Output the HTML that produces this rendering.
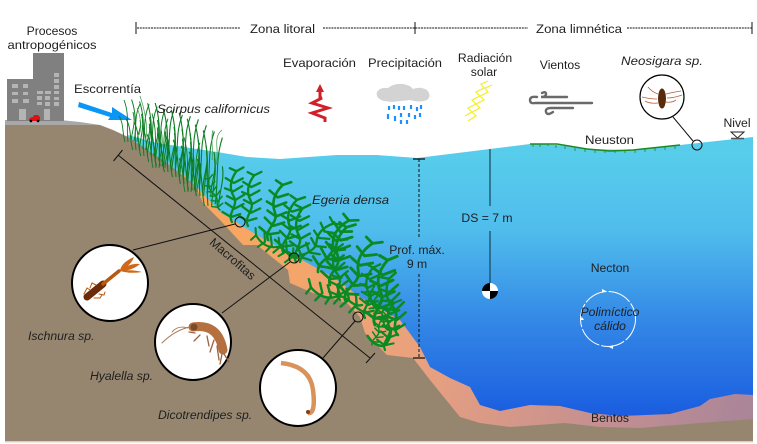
<!DOCTYPE html>
<html><head><meta charset="utf-8"><style>
html,body{margin:0;padding:0;background:#fff}
svg{display:block;filter:blur(.3px)}
text{font-family:"Liberation Sans",sans-serif;font-size:12.2px;fill:#1f1f1f}
.i{font-style:italic}
.m{text-anchor:middle}
</style></head><body>
<svg width="757" height="444" viewBox="0 0 757 444" xmlns="http://www.w3.org/2000/svg">
<defs>
<linearGradient id="w" x1="0" y1="150" x2="0" y2="415" gradientUnits="userSpaceOnUse">
<stop offset="0" stop-color="#58cdeb"/><stop offset=".3" stop-color="#50bdec"/><stop offset=".65" stop-color="#3387e6"/><stop offset="1" stop-color="#1a5de0"/></linearGradient>
<linearGradient id="p" x1="200" y1="200" x2="753" y2="420" gradientUnits="userSpaceOnUse">
<stop offset="0" stop-color="#fba85c"/><stop offset=".45" stop-color="#e9a17f"/><stop offset=".75" stop-color="#c69090"/><stop offset="1" stop-color="#a88599"/></linearGradient>
<g id="b" fill="none" stroke="#0a8a22" stroke-width="2.700" stroke-linecap="round">
<path d="M0 0C-7-10 7-20 0-30S-5-50 1-60"/>
<path d="M-2-6l-10-5M-1-6l10-4M1-16l-10-6M2-16l10-6M2-26l-10-4M2-26l10-7M-1-36l-10-3M-1-36l10-7M-1-46l-10-5M-1-46l10-6M1-60l-8-3M1-60l8-5"/>
</g>
<g id="g" fill="none" stroke="#0d7d22" stroke-width=".9">
<path d="M0 0C-2-14 2-26-4-42M3 0C4-12 8-18 5-30M-3 0C-6-10-4-18-9-26M6-1C9-16 6-26 12-38M9 0C9-8 14-14 12-22"/>
</g>
</defs>

<!-- water -->
<path d="M128 135L157 143 217 152 247 157 280 159 337 155 377 155 417 158 490 149 530 144 557 145 587 149 633 150 680 145 753 137V422H190L128 137Z" fill="url(#w)"/>
<!-- benthos/orange -->
<path d="M180 172L195 185 220 212 260 237 333 277 360 297 400 320 420 347 430 367 450 378 470 387 480 405 500 411 530 405 560 406 590 413 620 416 670 414 700 406 710 399 735 394 753 395V430H190Z" fill="url(#p)"/>
<!-- soil -->
<path d="M5 125H80L100 125 113 130 128 137 167 163 195 185 203 203 220 220 243 245 257 245 273 258 288 270 290 283 313 293 347 303 360 317 365 333 387 355 413 358 430 380 460 417 480 423 510 427 565 423 600 427 640 428 700 423 753 419V441.500H5Z" fill="#968670"/>
<path d="M5 120H60L80 122 100 125H5Z" fill="#a8a8a8"/>
<rect x="5" y="441" width="748" height="1.500" fill="#d6d2c6"/>

<!-- building -->
<path d="M7 79H33V53H64V121H7Z" fill="#808080"/>
<g fill="#b4b4b4">
<path d="M12 84h6v4h-6zM23 84h5v4h-5zM12 92h6v3h-6zM23 92h5v3h-5zM12 99h6v4h-6zM23 99h6v4h-6zM37 91h6v3h-6zM45 91h6v3h-6zM54 73h5v4h-5zM54 79h5v4h-5zM54 85h5v4h-5zM54 91h5v3h-5zM37 96h5v4h-5zM45 96h5v4h-5zM54 97h5v3h-5zM37 102h5v3h-5zM45 102h5v4h-5zM54 102h5v4h-5zM19 109h7v11h-7zM44 109h6v11h-6z"/></g>
<path d="M29 121q0-4 4-4l1-2h4l2 2q0 0 0 4Z" fill="#e01010"/>
<circle cx="31" cy="121" r="1.300"/><circle cx="38" cy="121" r="1.300"/>
<path d="M79 102L112 113 112 107 132 120 108 120 110 117 78 107Z" fill="#0a96f5"/>

<!-- grass -->
<g>
<use href="#g" transform="translate(128 142)"/>
<use href="#g" transform="translate(136 150) scale(1.100 1.200)"/>
<use href="#g" transform="translate(144 156) scale(1.100 1.300)"/>
<use href="#g" transform="translate(152 162) scale(1.100 1.400)"/>
<use href="#g" transform="translate(160 166) scale(1.200 1.500)"/>
<use href="#g" transform="translate(168 172) scale(1.200 1.500)"/>
<use href="#g" transform="translate(176 177) scale(1.200 1.600)"/>
<use href="#g" transform="translate(184 184) scale(1.200 1.700)"/>
<use href="#g" transform="translate(192 190) scale(1.200 1.700)"/>
<use href="#g" transform="translate(200 196) scale(1.200 1.700)"/>
<use href="#g" transform="translate(208 206) scale(1.200 1.800)"/>
<use href="#g" transform="translate(156 168) scale(1 1.300)"/>
<use href="#g" transform="translate(188 192) scale(1 1.300)"/>
<path d="M139 135C143 125 139 112 137 108M146 138C148 125 144 108 140 96M216 165C220 150 212 138 222 130M212 160C214 150 210 140 213 130" fill="none" stroke="#3d9c4a" stroke-width=".7"/>
</g>

<!-- egeria -->
<use href="#b" transform="translate(232 222) rotate(4) scale(.85)"/>
<use href="#b" transform="translate(248 226) rotate(6) scale(.85)"/>
<use href="#b" transform="translate(220 210) rotate(-20) scale(.55)"/>
<use href="#b" transform="translate(268 240) rotate(14) scale(.95)"/>
<use href="#b" transform="translate(283 252) rotate(14) scale(.9)"/>
<use href="#b" transform="translate(297 258) rotate(-62) scale(.78)"/>
<use href="#b" transform="translate(296 262) rotate(6) scale(.9)"/>
<use href="#b" transform="translate(300 262) rotate(40) scale(.85)"/>
<use href="#b" transform="translate(318 272) rotate(30) scale(1)"/>
<use href="#b" transform="translate(330 285) rotate(15) scale(1)"/>
<use href="#b" transform="translate(345 300) rotate(25) scale(1.050)"/>
<use href="#b" transform="translate(340 300) rotate(-5) scale(.85)"/>
<use href="#b" transform="translate(362 305) rotate(-72) scale(.9)"/>
<use href="#b" transform="translate(365 318) rotate(8) scale(.85)"/>
<use href="#b" transform="translate(375 325) rotate(10) scale(1.100)"/>
<use href="#b" transform="translate(398 335) rotate(-10) scale(.95)"/>
<use href="#b" transform="translate(385 350) rotate(10) scale(.8)"/>
<use href="#b" transform="translate(372 345) rotate(25) scale(.55)"/>
<use href="#b" transform="translate(388 330) rotate(-25) scale(.7)"/>
<path d="M367 335q6 10 15 11 8-3 9-16" fill="none" stroke="#0a8a22" stroke-width="2.600"/>

<!-- macrofitas bar -->
<g stroke="#111" fill="none" stroke-width="1">
<path d="M118 155L370 358"/><path d="M113.500 161L122.500 150"/><path d="M366 363L375 353"/>
<circle cx="240" cy="222" r="5"/><circle cx="294" cy="258" r="5"/><circle cx="358" cy="317" r="5"/>
<path d="M133 250L235 224M222 313L290 262M323 358L355 321M673 117L693 141"/>
<circle cx="697" cy="145" r="5"/>
<path d="M136 22V34M415 22V34M752 22V34"/>
<path d="M137 28H240M323 28H528M627 28H752" stroke-dasharray="2 .8" stroke-width=".9"/>
<path d="M419 159V238M419 274V358" stroke-dasharray="3 2"/>
<path d="M413 159H425M413 358H425" stroke-width="1.200"/>
</g>
<path d="M490 149V206M490 231V284" stroke="#1d4d64" stroke-width="1.300"/>
<circle cx="490" cy="291" r="8" fill="#fff"/>
<path d="M490 283A8 8 0 0 0 482 291H490ZM490 299A8 8 0 0 0 498 291H490Z"/>

<!-- insect circles -->
<g fill="#fff" stroke="#000" stroke-width="2">
<circle cx="110" cy="283" r="38"/><circle cx="193" cy="342" r="38"/><circle cx="298" cy="388" r="38"/>
</g>
<circle cx="662" cy="97" r="22" fill="#fff" stroke="#000" stroke-width="1.200"/>
<!-- Ischnura -->
<g fill="none" stroke-linecap="round">
<path d="M87 297L103 284" stroke="#6b2a08" stroke-width="7"/>
<path d="M103 284L119 271" stroke="#b8590f" stroke-width="3.500"/>
<path d="M84 294l3-6 3 2M90 288l2-5 4 2M94 298l6 0 2-3M99 294l5 1 1-3" stroke="#b8590f" stroke-width="1"/>
</g>
<path d="M120 270Q122 262 134 257 131 266 120 270ZM120 270Q130 263 140 264 132 271 120 271ZM120 271Q132 269 142 272 130 274 120 271Z" fill="#d0681a"/>
<!-- Hyalella -->
<g fill="none" stroke-linecap="round">
<path d="M193 327Q218 323 223 350" stroke="#b5703f" stroke-width="9"/>
<path d="M190 327Q175 330 162 343M188 328Q178 325 172 332" stroke="#a9744f" stroke-width=".9"/>
<path d="M195 333l-6-1M200 335l-6 6M207 336l2 10M214 340l-4 12M217 346l2 14M222 354l-2 10M224 354l5 8" stroke="#9a6440" stroke-width="1.300"/>
</g>
<circle cx="194" cy="327" r="3.500" fill="#7a4a2a"/>
<!-- Dicotrendipes -->
<path d="M281 363Q310 366 313 390T308 413" fill="none" stroke="#d9925a" stroke-width="4.500"/>
<circle cx="308" cy="412" r="2" fill="#7a4020"/>
<!-- Neosigara -->
<g fill="none" stroke="#b4623a" stroke-width=".8">
<path d="M658 94Q652 92 648 87M666 94Q674 92 681 91M657 99Q650 99 642 97M667 98Q674 98 682 95M658 103Q650 104 645 101M666 102Q672 103 676 100"/></g>
<ellipse cx="662" cy="98.500" rx="4" ry="10" fill="#5a2a0c"/>

<!-- neuston -->
<path d="M530 144L557 144 587 149 610 151 633 150 680 145" fill="none" stroke="#1a8a22" stroke-width="1.500"/>
<path d="M533 144v3M540 144v3M548 144v2M556 145v3M565 146v3M575 148v3M585 149v3M595 150v3M605 150v3M615 150v3M625 150v3M635 150v3M645 149v3M655 148v3M665 147v3M675 146v3" stroke="#1a8a22" stroke-width=".8"/>
<!-- Nivel -->
<path d="M731 132H744L737.500 138Z" fill="#fff" stroke="#222" stroke-width="1"/><path d="M731 138.500H744" stroke="#555" stroke-width="1.500"/>

<!-- evaporation -->
<path d="M320 88V98L322 98 312 103 328 108 312 113 325 118V122" fill="none" stroke="#d0202a" stroke-width="3"/>
<path d="M320 84L316 92H324Z" fill="#d0202a"/>
<!-- cloud -->
<path d="M384 101Q375 98 377 92 380 87 388 88 394 83 403 84 410 85 413 89 420 86 427 90 432 96 427 100 420 103 410 100 400 101 392 102 384 101Z" fill="#d3d3d3"/>
<path d="M389 106v4M394 105v4M399 106v4M404 106v4M411 105v4M417 107v4M421 105v4M388 114v5M395 116v5M401 113v4M409 113v4M415 115v4M420 113v4M401 120v4M407 120v4" stroke="#1e90ff" stroke-width="2.200"/>
<!-- radiation -->
<path d="M465 116L472 112 468 108 476 104 472 100 480 96 476 92 484 88 481 84 488 81M468 121L476 116 472 112 480 108 476 104 484 100 480 96 488 92 485 88 492 85" fill="none" stroke="#f4ee2a" stroke-width="1.200"/>
<!-- wind -->
<g fill="none" stroke="#6a6a6a" stroke-width="2.400" stroke-linecap="round">
<path d="M537 97Q530 96 530 100T535 103H592"/><path d="M542 93Q546 91 546 94T541 97H567"/><path d="M573 108H551Q545 108 546 112T553 112"/>
</g>

<!-- polimictico -->
<circle cx="608" cy="319" r="27.500" fill="none" stroke="#fff" stroke-width="1" stroke-dasharray="24 2"/>
<path d="M606 291l-4-2v4ZM609 347l4 2v-4ZM580 320l2 -3 2 3Z" fill="#fff"/>

<!-- labels -->
<text class="m" x="52" y="35">Procesos</text>
<text class="m" x="52" y="49" textLength="89" lengthAdjust="spacingAndGlyphs">antropogénicos</text>
<text x="74" y="93" textLength="67" lengthAdjust="spacingAndGlyphs">Escorrentía</text>
<text class="i" x="157" y="113" textLength="113" lengthAdjust="spacingAndGlyphs">Scirpus californicus</text>
<text x="250" y="33" textLength="65" lengthAdjust="spacingAndGlyphs">Zona litoral</text>
<text x="536" y="33" textLength="86" lengthAdjust="spacingAndGlyphs">Zona limnética</text>
<text x="283" y="67" textLength="73" lengthAdjust="spacingAndGlyphs">Evaporación</text>
<text x="368" y="67" textLength="74" lengthAdjust="spacingAndGlyphs">Precipitación</text>
<text class="m" x="485" y="62">Radiación</text>
<text class="m" x="484" y="76">solar</text>
<text class="m" x="560" y="69">Vientos</text>
<text class="i" x="621" y="65" textLength="82" lengthAdjust="spacingAndGlyphs">Neosigara sp.</text>
<text class="m" x="737" y="127">Nivel</text>
<text x="585" y="144" textLength="49" lengthAdjust="spacingAndGlyphs">Neuston</text>
<text class="i" x="312" y="204" textLength="77" lengthAdjust="spacingAndGlyphs">Egeria densa</text>
<text class="m" x="487" y="222">DS = 7 m</text>
<text class="m" x="417" y="254">Prof. máx.</text>
<text class="m" x="417" y="268">9 m</text>
<text class="m" x="610" y="272">Necton</text>
<text class="i m" x="610" y="316">Polimíctico</text>
<text class="i m" x="610" y="330">cálido</text>
<text class="m" x="610" y="422">Bentos</text>
<text class="m" transform="translate(230 262) rotate(41)" x="0" y="0">Macrofitas</text>
<text class="i" x="28" y="340">Ischnura sp.</text>
<text class="i" x="90" y="380">Hyalella sp.</text>
<text class="i" x="158" y="419">Dicotrendipes sp.</text>
</svg>
</body></html>
